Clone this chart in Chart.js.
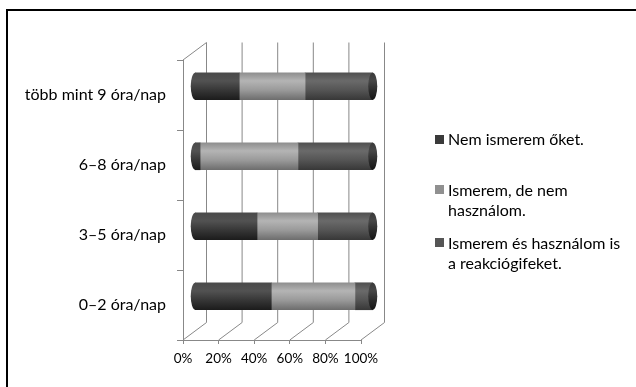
<!DOCTYPE html>
<html><head><meta charset="utf-8">
<script src="https://cdn.jsdelivr.net/npm/chart.js@4.4.1/dist/chart.umd.min.js"></script>
<style>
html,body{margin:0;padding:0;background:#fff;overflow:hidden;}
#wrap{position:relative;width:636px;height:387px;overflow:hidden;}
#ftop{position:absolute;left:6px;top:9px;width:640px;height:2px;background:#000;}
#fleft{position:absolute;left:6px;top:9px;width:2px;height:400px;background:#000;}
canvas{position:absolute;left:0;top:0;}
.leg{position:absolute;left:435px;font-family:Lato,sans-serif;font-size:16px;line-height:20px;color:#000;white-space:nowrap;}
.sw{position:absolute;left:0;top:5.5px;width:9px;height:9px;}
.leg .t{display:block;padding-left:13px;}
</style></head>
<body>
<div id="wrap">
<div id="ftop"></div><div id="fleft"></div>
<canvas id="c" width="636" height="387"></canvas>
<div id="legend"></div>
</div>
<script>
const categories = ['több mint 9 óra/nap', '6–8 óra/nap', '3–5 óra/nap', '0–2 óra/nap'];
const seriesNames = ['Nem ismerem őket.', 'Ismerem, de nem használom.', 'Ismerem és használom is a reakciógifeket.'];
const legendLines = [['Nem ismerem őket.'], ['Ismerem, de nem', 'használom.'], ['Ismerem és használom is', 'a reakciógifeket.']];
const nemIsmerem = [25, 3, 35, 43];
const ismeremNemHasznalom = [37, 55, 34, 47];
const ismeremHasznalom = [38, 42, 31, 10];
const xTicks = [0, 20, 40, 60, 80, 100];

const DX = 23.5, DY = -17.5, T = 27, RX = 4.5;
const flat = ['#3a3a3a', '#909090', '#555555'];
const grads = [
  ['#4a4a4a', '#525252', '#363636', '#1c1c1c'],
  ['#8e8e8e', '#b4b4b4', '#999999', '#6e6e6e'],
  ['#505050', '#6a6a6a', '#545454', '#383838']
];
const capGrad = ['#3a3a3a', '#474747', '#2c2c2c', '#161616'];
const legendTops = [129, 179.5, 232.5];

function cyl(ctx, y0, y1, s) {
  const g = ctx.createLinearGradient(0, y0, 0, y1);
  g.addColorStop(0, s[0]); g.addColorStop(0.3, s[1]); g.addColorStop(0.65, s[2]); g.addColorStop(1, s[3]);
  return g;
}
function bg(si) {
  return (c) => {
    const ch = c.chart;
    if (!ch.chartArea || !ch.scales.y) return flat[si];
    const yc = ch.scales.y.getPixelForValue(c.dataIndex);
    return cyl(ch.ctx, yc - T / 2, yc + T / 2, grads[si]);
  };
}

const threeD = {
  id: 'threeD',
  beforeDatasetsDraw(chart) {
    const { ctx, chartArea: a, scales: { x } } = chart;
    ctx.save();
    ctx.strokeStyle = '#888'; ctx.lineWidth = 1;
    ctx.beginPath();
    xTicks.forEach(v => {
      const px = x.getPixelForValue(v);
      ctx.moveTo(px + DX, a.top + DY); ctx.lineTo(px + DX, a.bottom + DY); ctx.lineTo(px, a.bottom);
    });
    ctx.moveTo(a.left, a.top); ctx.lineTo(a.left + DX, a.top + DY);
    ctx.stroke();
    ctx.restore();
    ctx.save();
    ctx.translate(DX / 2, DY / 2);
    const m0 = chart.getDatasetMeta(0);
    m0.data.forEach(el => {
      const p = el.getProps(['base', 'y', 'height'], true);
      ctx.fillStyle = cyl(ctx, p.y - p.height / 2, p.y + p.height / 2, grads[0]);
      ctx.beginPath(); ctx.ellipse(p.base, p.y, RX, p.height / 2, 0, 0, 2 * Math.PI); ctx.fill();
    });
  },
  afterDatasetsDraw(chart) {
    const ctx = chart.ctx;
    const m = chart.getDatasetMeta(chart.data.datasets.length - 1);
    m.data.forEach(el => {
      const p = el.getProps(['x', 'y', 'height'], true);
      ctx.fillStyle = cyl(ctx, p.y - p.height / 2, p.y + p.height / 2, capGrad);
      ctx.beginPath(); ctx.ellipse(p.x, p.y, RX, p.height / 2, 0, 0, 2 * Math.PI); ctx.fill();
    });
    ctx.restore();
  }
};

const values = [nemIsmerem, ismeremNemHasznalom, ismeremHasznalom];
new Chart(document.getElementById('c'), {
  type: 'bar',
  data: {
    labels: categories,
    datasets: values.map((d, i) => ({
      label: seriesNames[i], data: d, backgroundColor: bg(i), borderWidth: 0,
      barThickness: T, clip: false
    }))
  },
  options: {
    indexAxis: 'y', responsive: false, animation: false, devicePixelRatio: 1,
    layout: { padding: { top: 60, right: 275, left: 0, bottom: 0 } },
    plugins: { legend: { display: false }, tooltip: { enabled: false } },
    scales: {
      x: {
        stacked: true, min: 0, max: 100,
        afterFit: s => { s.height = 47; },
        afterBuildTicks: s => { s.ticks = xTicks.map(v => ({ value: v })); },
        ticks: { callback: v => v + '%', color: '#000', font: { family: 'Lato', size: 13.5 }, padding: 7, maxRotation: 0, autoSkip: false },
        grid: { drawOnChartArea: false, drawTicks: true, tickLength: 4, color: '#888' },
        border: { display: true, color: '#888', width: 1 }
      },
      y: {
        stacked: true,
        afterFit: s => { s.width = 183; },
        ticks: { color: '#000', font: { family: 'Lato', size: 16 }, padding: 11 },
        grid: { drawOnChartArea: false, drawTicks: true, tickLength: 6, color: '#888', offset: true },
        border: { display: true, color: '#888', width: 1 }
      }
    }
  },
  plugins: [threeD]
});

const leg = document.getElementById('legend');
legendLines.forEach((lines, i) => {
  const d = document.createElement('div');
  d.className = 'leg'; d.style.top = legendTops[i] + 'px';
  const sw = document.createElement('div'); sw.className = 'sw'; sw.style.background = flat[i];
  d.appendChild(sw);
  lines.forEach(l => { const s = document.createElement('span'); s.className = 't'; s.textContent = l; d.appendChild(s); });
  leg.appendChild(d);
});
</script>
</body></html>
